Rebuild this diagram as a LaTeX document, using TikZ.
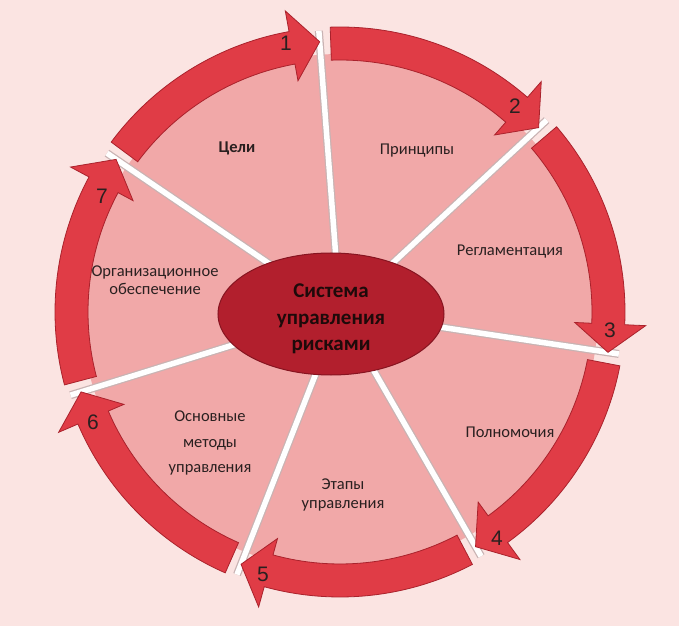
\documentclass[tikz,border=0pt]{standalone}
\usepackage{fontspec}
\setmainfont{Carlito}
\newfontfamily\numfont{Liberation Sans}
\usetikzlibrary{shapes.geometric}
\definecolor{bg}{HTML}{FBE4E2}
\definecolor{sector}{HTML}{F1A8A8}
\definecolor{ringred}{HTML}{E03C46}
\definecolor{ringedge}{HTML}{A9222C}
\definecolor{corered}{HTML}{B21F2D}
\definecolor{coreedge}{HTML}{861420}
\definecolor{spokeedge}{HTML}{C9B3B3}
\definecolor{txt}{HTML}{2A2020}
\definecolor{coretxt}{HTML}{1E0A0A}
\begin{document}
\begin{tikzpicture}[x=1pt,y=1pt,
  lbl/.style={font=\fontsize{16.5}{18.5}\selectfont, text=txt, align=center, inner sep=0},
  num/.style={font=\numfont\fontsize{21}{21}\selectfont, text=txt, inner sep=0},
  ringarrow/.style={fill=ringred, draw=ringedge, line width=0.8pt, line join=miter},
  spoke/.style={draw=spokeedge, line width=8pt},
  spokein/.style={draw=white, line width=5.5pt},
  coretext/.style={font=\bfseries\fontsize{21}{26.5}\selectfont, text=coretxt, align=center, inner sep=0},
]
\useasboundingbox (-340,-314) rectangle (339,312);
\fill[bg] (-340,-314) rectangle (339,312);
\coordinate (c) at (0,0);
\fill[sector] (c) circle[radius=258];
\foreach \k in {1,...,7}{
  \pgfmathsetmacro{\T}{94.3-51.43*(\k-1)}
  \coordinate (s\k) at (\T:282);
}
\foreach \k in {1,...,7} \draw[spoke] (c) -- (s\k);
\foreach \k in {1,...,7} \draw[spokein] (c) -- (s\k);
\foreach \k in {1,...,7}{
  \pgfmathsetmacro{\T}{94.3-51.43*(\k-1)}
  \pgfmathsetmacro{\S}{\T+49.1}
  \pgfmathsetmacro{\B}{\T+6}
  \draw[ringarrow] (\S:285) arc[start angle=\S, end angle=\B, radius=285]
    -- (\B:306) -- (\T:271) -- (\B:235) -- (\B:252)
    arc[start angle=\B, end angle=\S, radius=252] -- cycle;
}
\node[ellipse, fill=corered, draw=coreedge, line width=1pt,
  minimum width=226pt, minimum height=122pt, inner sep=0] (core) at (-9,-2) {};
\node[coretext] (coretitle) at ([yshift=-5pt]core.center) {Система\\управления\\рисками};
\node[lbl, font=\bfseries\fontsize{16.5}{18.5}\selectfont] (goal) at (-103,164) {Цели};
\node[lbl] (princ) at (77,161) {Принципы};
\node[lbl] (regl) at (170,60) {Регламентация};
\node[lbl] (polno) at (170,-120) {Полномочия};
\node[lbl, font=\fontsize{16.5}{19.5}\selectfont] (etap) at (3,-183) {Этапы\\управления};
\node[lbl, font=\fontsize{16.5}{25.5}\selectfont] (metod) at (-130,-131) {Основные\\методы\\управления};
\node[lbl] (org) at (-185,32) {Организационное\\обеспечение};
\node[num] (n1) at (-54,269) {1};
\node[num] (n2) at (175,206) {2};
\node[num] (n3) at (270,-18) {3};
\node[num] (n4) at (157,-226) {4};
\node[num] (n5) at (-77,-262) {5};
\node[num] (n6) at (-247,-110) {6};
\node[num] (n7) at (-238,116) {7};
\end{tikzpicture}
\end{document}
